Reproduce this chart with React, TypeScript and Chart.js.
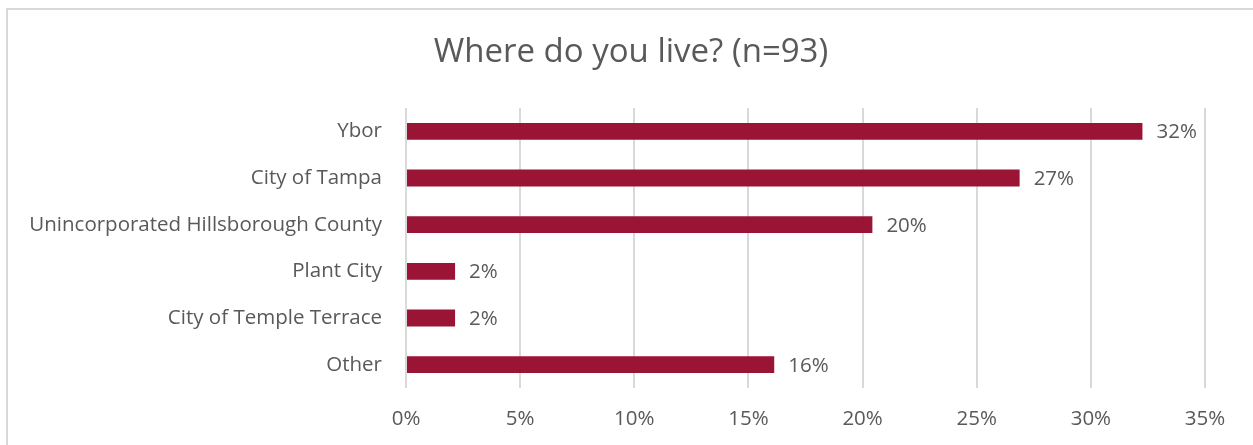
import React, { useEffect, useRef } from "react";
import { Chart, registerables } from "chart.js";

Chart.register(...registerables);

const categories = [
  "Ybor",
  "City of Tampa",
  "Unincorporated Hillsborough County",
  "Plant City",
  "City of Temple Terrace",
  "Other",
];
const values = [32.26, 26.88, 20.43, 2.15, 2.15, 16.13];
const valueLabels = ["32%", "27%", "20%", "2%", "2%", "16%"];
const xTicks = [0, 5, 10, 15, 20, 25, 30, 35];
const title = "Where do you live? (n=93)";

const FONT = "'Open Sans', sans-serif";
const TEXT = "#595959";
const BAR = "#9A1535";
const GRID = "#d9d9d9";

export default function App() {
  const ref = useRef<HTMLCanvasElement | null>(null);

  useEffect(() => {
    if (!ref.current) return;
    const labelPlugin = {
      id: "valueLabels",
      afterDatasetsDraw(chart: any) {
        const ctx = chart.ctx;
        const meta = chart.getDatasetMeta(0);
        ctx.save();
        ctx.font = `20.5px ${FONT}`;
        ctx.fillStyle = TEXT;
        ctx.textAlign = "left";
        ctx.textBaseline = "middle";
        meta.data.forEach((bar: any, i: number) => {
          ctx.fillText(valueLabels[i], bar.x + 14, bar.y + 1);
        });
        ctx.restore();
      },
    };
    const titlePlugin = {
      id: "customTitle",
      afterDraw(chart: any) {
        const ctx = chart.ctx;
        ctx.save();
        ctx.font = `33px ${FONT}`;
        ctx.fillStyle = TEXT;
        ctx.textAlign = "center";
        ctx.textBaseline = "middle";
        ctx.fillText(title, 631, 53);
        ctx.restore();
      },
    };
    const chart = new Chart(ref.current, {
      type: "bar",
      data: {
        labels: categories,
        datasets: [
          {
            data: values,
            backgroundColor: BAR,
            categoryPercentage: 1,
            barPercentage: 0.36,
          },
        ],
      },
      options: {
        indexAxis: "y",
        animation: false,
        responsive: false,
        layout: { padding: { left: 0, right: 48, top: 108, bottom: 0 } },
        plugins: {
          legend: { display: false },
          title: { display: false },
          tooltip: { enabled: false },
        },
        scales: {
          x: {
            min: 0,
            max: 35,
            afterBuildTicks(axis: any) {
              axis.ticks = xTicks.map((v) => ({ value: v }));
            },
            afterFit(axis: any) {
              axis.height = 57;
            },
            ticks: {
              color: TEXT,
              font: { family: FONT, size: 20.5 },
              padding: 19,
              callback: (v: any) => `${v}%`,
            },
            grid: { color: GRID, lineWidth: 2, drawTicks: false },
            border: { display: false },
          },
          y: {
            afterFit(axis: any) {
              axis.width = 406;
            },
            ticks: {
              color: TEXT,
              font: { family: FONT, size: 20.5 },
              padding: 24,
            },
            grid: { display: false, drawTicks: false },
            border: { display: false },
          },
        },
      },
      plugins: [labelPlugin, titlePlugin],
    });
    return () => chart.destroy();
  }, []);

  return (
    <div style={{ position: "absolute", left: 0, top: 0, width: 1253, height: 445, background: "#fff", overflow: "hidden" }}>
      <div
        style={{
          position: "absolute",
          left: 6,
          top: 8,
          width: 1300,
          height: 500,
          border: "2px solid #d9d9d9",
          boxSizing: "border-box",
        }}
      />
      <canvas ref={ref} width={1253} height={445} style={{ position: "absolute", left: 0, top: 0 }} />
    </div>
  );
}
